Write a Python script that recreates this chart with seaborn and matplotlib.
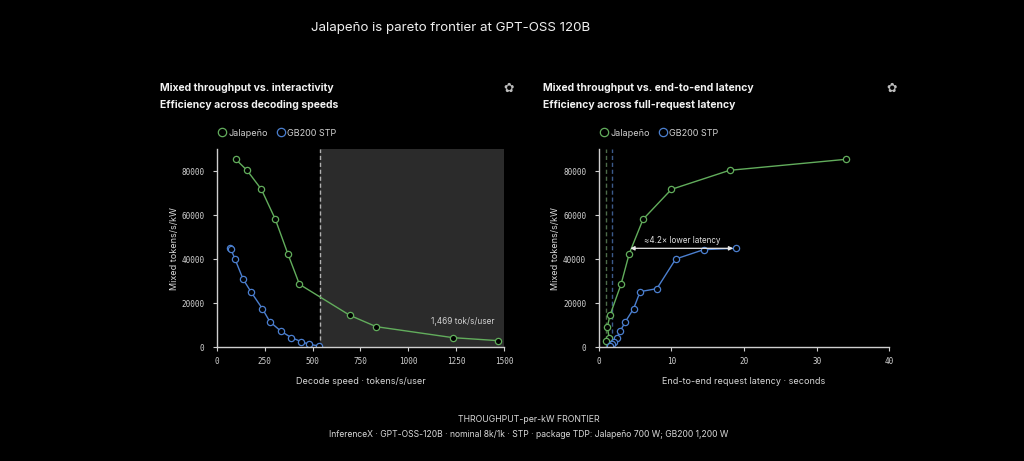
import numpy as np
import pandas as pd
import matplotlib
matplotlib.use('Agg')
import matplotlib.pyplot as plt
import seaborn as sns
from matplotlib.lines import Line2D

# ── data ───────────────────────────────────────────────────────────────────
JAL_SPEED = [98, 157, 232, 305, 370, 431, 694, 832, 1233, 1469]
JAL_TPUT = [85450, 80450, 71800, 58180, 42580, 28640, 14550, 9390, 4390, 3030]
JAL_LAT = [34.0, 18.0, 10.0, 6.1, 4.2, 3.07, 1.55, 1.19, 1.42, 1.0]

GB_SPEED = [66, 73, 94, 136, 178, 237, 276, 335, 389, 441, 481, 535]
GB_TPUT_L = [45000, 44550, 40150, 31060, 25150, 17580, 11670, 7270, 4390, 2580, 1360, 600]

GB_LAT = [18.9, 14.45, 10.6, 8.0, 5.7, 4.8, 3.67, 2.94, 2.52, 2.16, 1.88, 1.6]
GB_TPUT_R = [45000, 44400, 40150, 26670, 25300, 17580, 11670, 7270, 4390, 2580, 1360, 600]

SPEED_CUTOFF = 537
JAL_LAT_MIN = 1.0
GB_LAT_MIN = 1.83

GREEN = '#62ad5c'
BLUE = '#4b7fcf'
BG = '#000000'
FG = '#d8d8d8'
MONO = 'DejaVu Sans Mono'

sns.set_theme(style='dark')
plt.rcParams['font.family'] = ['Inter', 'DejaVu Sans']
plt.rcParams.update({
    'figure.facecolor': BG, 'axes.facecolor': BG, 'savefig.facecolor': BG,
    'text.color': FG, 'axes.labelcolor': FG,
})

left_df = pd.concat([
    pd.DataFrame({'x': JAL_SPEED, 'y': JAL_TPUT, 'sys': 'Jalapeño'}),
    pd.DataFrame({'x': GB_SPEED, 'y': GB_TPUT_L, 'sys': 'GB200 STP'}),
])
right_df = pd.concat([
    pd.DataFrame({'x': JAL_LAT, 'y': JAL_TPUT, 'sys': 'Jalapeño'}),
    pd.DataFrame({'x': GB_LAT, 'y': GB_TPUT_R, 'sys': 'GB200 STP'}),
])
palette = {'Jalapeño': GREEN, 'GB200 STP': BLUE}

fig = plt.figure(figsize=(10.24, 4.61), dpi=100)
ax1 = fig.add_axes([0.2119, 0.2466, 0.2803, 0.4295])
ax2 = fig.add_axes([0.5847, 0.2466, 0.2838, 0.4295])


def style_axes(ax, xlim, xticks, xlabel):
    ax.set_xlim(*xlim)
    ax.set_ylim(0, 90000)
    ax.set_xticks(xticks)
    ax.set_yticks([0, 20000, 40000, 60000, 80000])
    ax.grid(False)
    for s in ['top', 'right']:
        ax.spines[s].set_visible(False)
    for s in ['left', 'bottom']:
        ax.spines[s].set_color('#cfcfcf')
        ax.spines[s].set_linewidth(1.0)
    ax.tick_params(axis='both', colors='#cfcfcf', labelcolor='#d0d0d0',
                   length=3, width=0.8, labelsize=5.5, pad=4, bottom=True, left=True)
    ax.tick_params(axis='y', pad=6)
    for lab in ax.get_xticklabels() + ax.get_yticklabels():
        lab.set_fontfamily(MONO)
    ax.set_xlabel(xlabel, fontsize=6.5, labelpad=8)
    ax.set_ylabel('Mixed tokens/s/kW', fontsize=6.5, labelpad=2)
    if ax.get_legend():
        ax.get_legend().remove()


# ── left panel ─────────────────────────────────────────────────────────────
ax1.axvspan(SPEED_CUTOFF, 1500, color='#2b2b2b', lw=0, zorder=0)
ax1.axvline(SPEED_CUTOFF, color='#b0b0b0', ls=(0, (3, 2)), lw=1, zorder=1)
sns.lineplot(data=left_df, x='x', y='y', hue='sys', palette=palette, sort=False,
             marker='o', markersize=4.5, markerfacecolor=BG, markeredgewidth=0.9,
             lw=1, ax=ax1, estimator=None)
for line in ax1.lines[1:]:
    line.set_markeredgecolor(line.get_color())
ax1.text(1286, 9600, '1,469 tok/s/user', fontsize=6, color='#d0d0d0', ha='center', va='bottom')
style_axes(ax1, (0, 1500), [0, 250, 500, 750, 1000, 1250, 1500], 'Decode speed · tokens/s/user')

# ── right panel ────────────────────────────────────────────────────────────
ax2.axvline(JAL_LAT_MIN, color='#4d6b4a', ls=(0, (3, 2)), lw=1, zorder=1)
ax2.axvline(GB_LAT_MIN, color='#3c5a8a', ls=(0, (3, 2)), lw=1, zorder=1)
sns.lineplot(data=right_df, x='x', y='y', hue='sys', palette=palette, sort=False,
             marker='o', markersize=4.5, markerfacecolor=BG, markeredgewidth=0.9,
             lw=1, ax=ax2, estimator=None)
for line in ax2.lines[2:]:
    line.set_markeredgecolor(line.get_color())
ax2.annotate('', xy=(4.35, 45000), xytext=(18.5, 45000),
             arrowprops=dict(arrowstyle='<|-|>', color='#e8e8e8', lw=0.9,
                             mutation_scale=6, shrinkA=0, shrinkB=0))
ax2.text(11.5, 46600, '≈4.2× lower latency', fontsize=5.8, color='#e0e0e0',
         ha='center', va='bottom')
style_axes(ax2, (0, 40), [0, 10, 20, 30, 40], 'End-to-end request latency · seconds')

# ── headings & legends ─────────────────────────────────────────────────────
fig.text(311 / 1024, 1 - 28 / 461, 'Jalapeño is pareto frontier at GPT-OSS 120B',
         fontsize=9.6, color='#f0f0f0', ha='left', va='center')

panels = [
    (160, 'Mixed throughput vs. interactivity', 'Efficiency across decoding speeds', 509, 218),
    (543, 'Mixed throughput vs. end-to-end latency', 'Efficiency across full-request latency', 892, 600),
]
for x0, t1, t2, logo_x, leg_x in panels:
    fig.text(x0 / 1024, 1 - 88 / 461, t1, fontsize=7.5, fontweight='bold',
             color='#f2f2f2', ha='left', va='center')
    fig.text(x0 / 1024, 1 - 105 / 461, t2, fontsize=7.5, fontweight='bold',
             color='#f2f2f2', ha='left', va='center')
    fig.text(logo_x / 1024, 1 - 88 / 461, '✿', fontsize=9, color='#bdbdbd',
             ha='center', va='center', family='DejaVu Sans')
    handles = [Line2D([], [], ls='none', marker='o', markersize=6, mfc=BG,
                      mec=c, mew=0.9, label=k) for k, c in palette.items()]
    fig.legend(handles=handles, loc='center left',
               bbox_to_anchor=(leg_x / 1024 - 0.009, 1 - 133 / 461), ncol=2,
               frameon=False, fontsize=6.5, labelcolor='#d0d0d0',
               handletextpad=0.1, columnspacing=0.8, handlelength=1.2)

fig.text(529 / 1024, 1 - 419 / 461, 'THROUGHPUT-per-kW FRONTIER', fontsize=6.3,
         color='#d8d8d8', ha='center', va='center')
fig.text(529 / 1024, 1 - 434 / 461,
         'InferenceX · GPT-OSS-120B · nominal 8k/1k · STP · package TDP: Jalapeño 700 W; GB200 1,200 W',
         fontsize=6.2, color='#d8d8d8', ha='center', va='center')

fig.savefig('out.png', dpi=100, facecolor=BG)
